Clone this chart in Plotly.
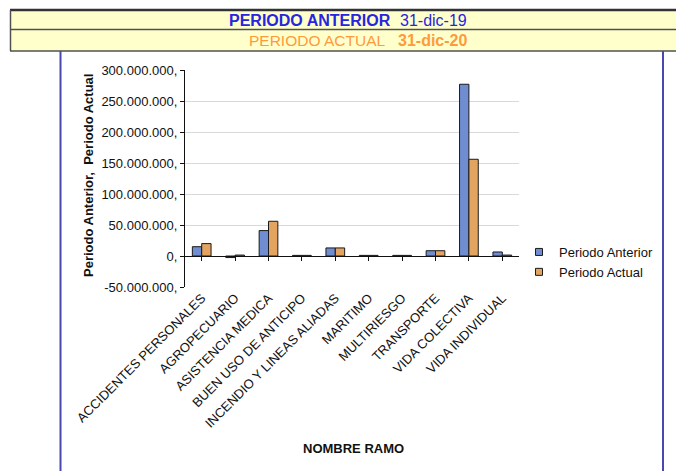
import plotly.graph_objects as go

# Ramos (insurance lines) and the two periods' values
ramos = [
    "ACCIDENTES PERSONALES", "AGROPECUARIO", "ASISTENCIA MEDICA",
    "BUEN USO DE ANTICIPO", "INCENDIO Y LINEAS ALIADAS", "MARITIMO",
    "MULTIRIESGO", "TRANSPORTE", "VIDA COLECTIVA", "VIDA INDIVIDUAL",
]
periodo_anterior = [15_000_000, -2_500_000, 41_000_000, 1_000_000, 13_000_000,
                    1_000_000, 1_000_000, 8_500_000, 277_000_000, 6_500_000]
periodo_actual = [20_000_000, 1_500_000, 56_000_000, 1_000_000, 13_000_000,
                  1_000_000, 1_000_000, 8_500_000, 156_000_000, 1_500_000]

y_ticks = [-50_000_000, 0, 50_000_000, 100_000_000, 150_000_000,
           200_000_000, 250_000_000, 300_000_000]
y_tick_text = ["-50.000.000,", "0,", "50.000.000,", "100.000.000,", "150.000.000,",
               "200.000.000,", "250.000.000,", "300.000.000,"]

W, H = 676, 471
PL, PR, PT, PB = 185, 519, 70, 287  # plot area in pixels


def px(x):
    return (x - PL) / (PR - PL)


def py(y):
    return (PB - y) / (PB - PT)


FONT = "Liberation Sans, Arial, sans-serif"
BLUE = "#6F8DD0"
ORANGE = "#E3A462"
HEAD_BLUE = "#2626E0"
HEAD_ORANGE = "#FF9A3C"
TXT = "#111111"

fig = go.Figure()
fig.add_trace(go.Bar(x=ramos, y=periodo_anterior, name="Periodo Anterior",
                     marker=dict(color=BLUE, line=dict(color="#1a1a1a", width=1)),
                     showlegend=False))
fig.add_trace(go.Bar(x=ramos, y=periodo_actual, name="Periodo Actual",
                     marker=dict(color=ORANGE, line=dict(color="#1a1a1a", width=1)),
                     showlegend=False))
# small square legend keys
for nm, col in [("Periodo Anterior", BLUE), ("Periodo Actual", ORANGE)]:
    fig.add_trace(go.Scatter(x=[None], y=[None], mode="markers", name=nm,
                             marker=dict(symbol="square", size=7, color=col,
                                         line=dict(color="#1a1a1a", width=1))))
# axis drawn along the zero line, carrying the category tick marks
fig.add_trace(go.Scatter(x=ramos, y=[0] * len(ramos), xaxis="x2", mode="none",
                         showlegend=False, hoverinfo="skip"))

shapes = [
    # header band
    dict(type="rect", xref="paper", yref="paper", x0=px(10), x1=px(680),
         y0=py(51), y1=py(10), fillcolor="#FFFFCC", line=dict(width=0), layer="below"),
    dict(type="line", xref="paper", yref="paper", x0=px(10), x1=px(680),
         y0=py(10), y1=py(10), line=dict(color="#333333", width=2.5)),
    dict(type="line", xref="paper", yref="paper", x0=px(10), x1=px(680),
         y0=py(29.5), y1=py(29.5), line=dict(color="#505050", width=1.5)),
    dict(type="line", xref="paper", yref="paper", x0=px(10), x1=px(680),
         y0=py(51), y1=py(51), line=dict(color="#505050", width=1.5)),
    dict(type="line", xref="paper", yref="paper", x0=px(10.5), x1=px(10.5),
         y0=py(10), y1=py(51), line=dict(color="#505050", width=1.5)),
    # chart frame sides
    dict(type="line", xref="paper", yref="paper", x0=px(60.5), x1=px(60.5),
         y0=py(51), y1=py(475), line=dict(color="#4848B0", width=2)),
    dict(type="line", xref="paper", yref="paper", x0=px(663), x1=px(663),
         y0=py(51), y1=py(475), line=dict(color="#4848B0", width=2)),
]


def note(text, x, y, size, color, bold=False, angle=0):
    return dict(text=f"<b>{text}</b>" if bold else text, x=px(x), y=py(y),
                xanchor="center", yanchor="middle", textangle=angle,
                showarrow=False, xref="paper", yref="paper",
                font=dict(family=FONT, size=size, color=color))


annotations = [
    note("PERIODO ANTERIOR", 310, 20, 16, HEAD_BLUE, bold=True),
    note("31-dic-19", 433.5, 20, 16, HEAD_BLUE),
    note("PERIODO ACTUAL", 316.5, 40.5, 15.5, HEAD_ORANGE),
    note("31-dic-20", 432.5, 40.5, 16, HEAD_ORANGE, bold=True),
    note("Periodo Anterior,  Periodo Actual", 88, 176, 13, TXT, bold=True, angle=-90),
    note("NOMBRE RAMO", 353, 448, 13, TXT, bold=True),
]

fig.update_layout(
    width=W, height=H,
    margin=dict(l=PL, r=W - PR, t=PT, b=H - PB, autoexpand=False),
    paper_bgcolor="white", plot_bgcolor="white",
    barmode="group", bargap=0.44, bargroupgap=0,
    font=dict(family=FONT, size=13, color=TXT),
    shapes=shapes, annotations=annotations,
    legend=dict(x=px(519), y=py(237), xanchor="left", yanchor="top",
                font=dict(family=FONT, size=13, color=TXT),
                itemwidth=30, bgcolor="rgba(0,0,0,0)"),
    xaxis=dict(type="category", showline=False, showgrid=False, ticks="",
               tickangle=-45, tickfont=dict(size=13, color=TXT),
               automargin=False),
    xaxis2=dict(type="category", overlaying="x", matches="x", anchor="free",
                position=50 / 350, showline=True,
                linecolor=TXT, linewidth=1.2, ticks="outside", ticklen=4,
                tickcolor=TXT, showticklabels=False, showgrid=False,
                side="bottom", automargin=False),
    yaxis=dict(range=[-50_000_000, 300_000_000], tickvals=y_ticks, ticktext=y_tick_text,
               showline=True, linecolor=TXT, linewidth=1.2, ticks="outside",
               ticklen=4, tickcolor=TXT, showgrid=True, gridcolor="#D9D9D9",
               gridwidth=1, zeroline=False, tickfont=dict(size=13, color=TXT),
               automargin=False),
)

fig.write_html("out.html")
